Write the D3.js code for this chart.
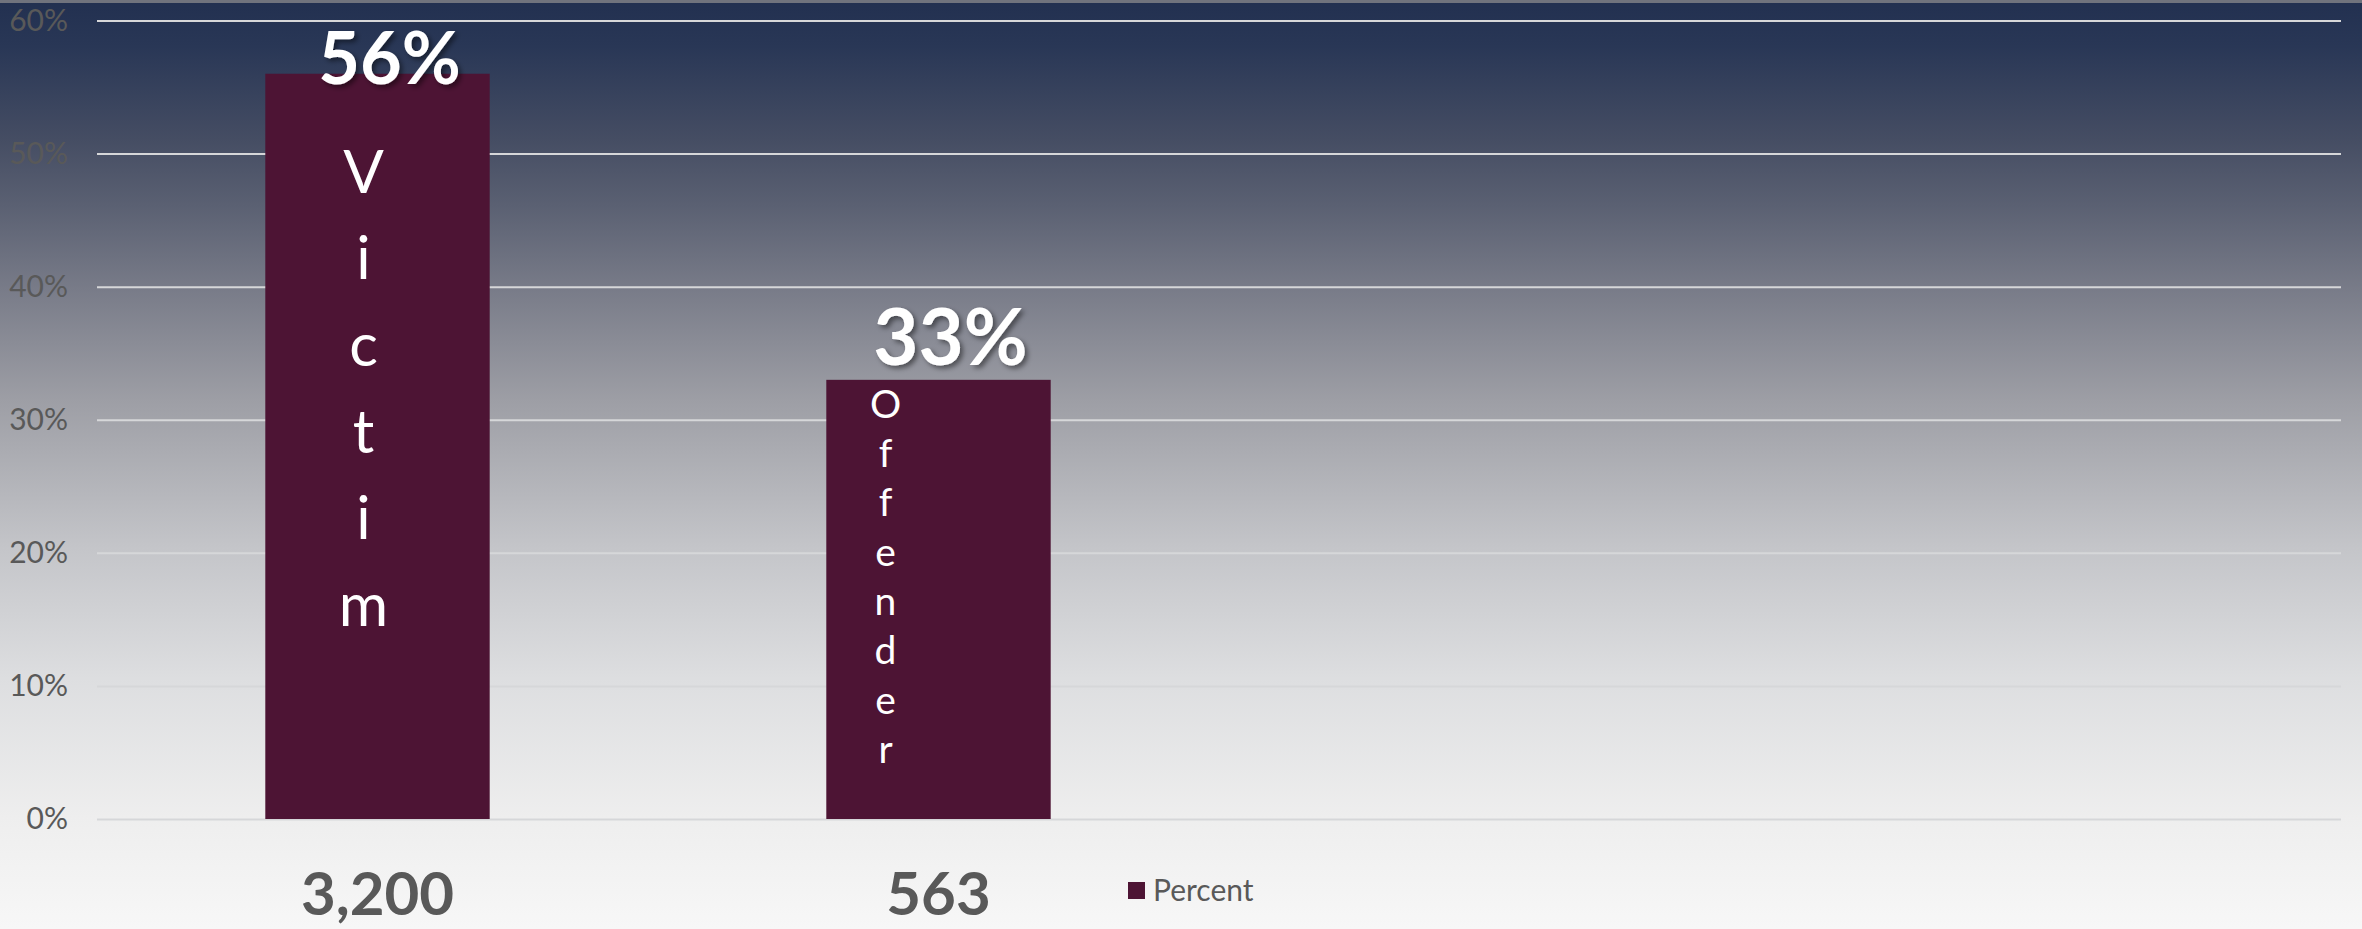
<!DOCTYPE html>
<html>
<head>
<meta charset="utf-8">
<script src="https://cdn.jsdelivr.net/npm/d3@7"></script>
<style>
  html, body { margin: 0; padding: 0; background: #f7f7f7; }
  svg { display: block; font-family: Lato, "Open Sans", sans-serif; }
</style>
</head>
<body>
<div id="chart"></div>
<script>
// counts shown under each bar, percent per bar, word written inside each bar
const countLabels = ['3,200', '563'];
const percents = [56, 33];
const barWords = ['Victim', 'Offender'];
const yTicks = [0, 10, 20, 30, 40, 50, 60];
const legendLabel = 'Percent';
const slotCount = 4; // the category axis keeps room for four bars

const width = 2362;
const height = 929;
const margin = { top: 20.5, right: 21, bottom: 110, left: 97 };
const barColor = '#4d1434';
const textGrey = '#595959';

// per-bar look of the labels (font sizes and offsets from the bar)
const valueStyle = [{ size: 72, dx: 12 }, { size: 78, dx: 12 }];
const wordStyle = [
  { size: 60, dx: -14, first: 119, step: 86.6 },
  { size: 39, dx: -53, first: 38, step: 49.3 },
];

const svg = d3.select('#chart').append('svg')
  .attr('width', width)
  .attr('height', height);

const defs = svg.append('defs');
const grad = defs.append('linearGradient')
  .attr('id', 'bg')
  .attr('x1', 0).attr('y1', 0).attr('x2', 0).attr('y2', 1);
[
  [0, '#223050'], [0.05, '#293756'], [0.15, '#454d63'], [0.22, '#5a6072'],
  [0.31, '#787b88'], [0.43, '#9d9ea5'], [0.59, '#c4c5c9'], [0.73, '#dddee0'],
  [0.88, '#eeeeee'], [1, '#f7f7f7'],
].forEach(([o, c]) => grad.append('stop').attr('offset', o).attr('stop-color', c));

const shadow = defs.append('filter').attr('id', 'shadow')
  .attr('x', '-20%').attr('y', '-20%').attr('width', '140%').attr('height', '140%');
shadow.append('feDropShadow')
  .attr('dx', 3).attr('dy', 3).attr('stdDeviation', 2.5)
  .attr('flood-color', '#000').attr('flood-opacity', 0.45);

svg.append('rect').attr('width', width).attr('height', height).attr('fill', 'url(#bg)');
svg.append('rect').attr('width', width).attr('height', 3).attr('fill', '#70737d');

const x = d3.scaleBand()
  .domain(d3.range(slotCount))
  .range([margin.left, width - margin.right])
  .paddingInner(0.6)
  .paddingOuter(0.3);

const y = d3.scaleLinear()
  .domain([0, 60])
  .range([height - margin.bottom, margin.top]);

// gridlines
const yAxis = d3.axisLeft(y)
  .tickValues(yTicks)
  .tickSize(-(width - margin.left - margin.right))
  .tickPadding(29)
  .tickFormat(d => `${d}%`);

const gAxis = svg.append('g')
  .attr('transform', `translate(${margin.left},0)`)
  .call(yAxis);
gAxis.select('.domain').remove();
gAxis.selectAll('.tick line')
  .attr('stroke', '#d6d7d9')
  .attr('stroke-width', 2);
gAxis.selectAll('.tick text')
  .attr('fill', textGrey)
  .attr('font-size', 30)
  .attr('font-family', 'Lato, sans-serif');

// bars
const bars = percents.map((v, i) => ({ v, i, count: countLabels[i], word: barWords[i] }));

svg.append('g').selectAll('rect')
  .data(bars)
  .join('rect')
  .attr('x', d => x(d.i))
  .attr('y', d => y(d.v))
  .attr('width', x.bandwidth())
  .attr('height', d => y(0) - y(d.v))
  .attr('fill', barColor);

// value labels, kept inside the plot top
svg.append('g').selectAll('text')
  .data(bars)
  .join('text')
  .attr('x', d => x(d.i) + x.bandwidth() / 2 + valueStyle[d.i].dx)
  .attr('y', d => Math.max(y(d.v) - 15, y(60) + 63))
  .attr('text-anchor', 'middle')
  .attr('font-weight', 700)
  .attr('font-size', d => valueStyle[d.i].size)
  .attr('fill', '#fff')
  .attr('filter', 'url(#shadow)')
  .text(d => `${d.v}%`);

// words written down inside the bars, one letter per line
const words = svg.append('g').selectAll('text')
  .data(bars)
  .join('text')
  .attr('text-anchor', 'middle')
  .attr('fill', '#fff')
  .attr('font-size', d => wordStyle[d.i].size);

words.selectAll('tspan')
  .data(d => d.word.split('').map((ch, k) => ({ ch, k, d })))
  .join('tspan')
  .attr('x', t => x(t.d.i) + x.bandwidth() / 2 + wordStyle[t.d.i].dx)
  .attr('y', t => y(t.d.v) + wordStyle[t.d.i].first + t.k * wordStyle[t.d.i].step)
  .text(t => t.ch);

// counts under the bars
svg.append('g').selectAll('text')
  .data(bars)
  .join('text')
  .attr('x', d => x(d.i) + x.bandwidth() / 2)
  .attr('y', 915)
  .attr('text-anchor', 'middle')
  .attr('font-weight', 700)
  .attr('font-size', 60)
  .attr('fill', textGrey)
  .text(d => d.count);

// legend
const legend = svg.append('g').attr('transform', 'translate(1128,882)');
legend.append('rect').attr('width', 17).attr('height', 17).attr('fill', barColor);
legend.append('text')
  .attr('x', 25)
  .attr('y', 18.5)
  .attr('font-size', 30)
  .attr('fill', textGrey)
  .text(legendLabel);
</script>
</body>
</html>
